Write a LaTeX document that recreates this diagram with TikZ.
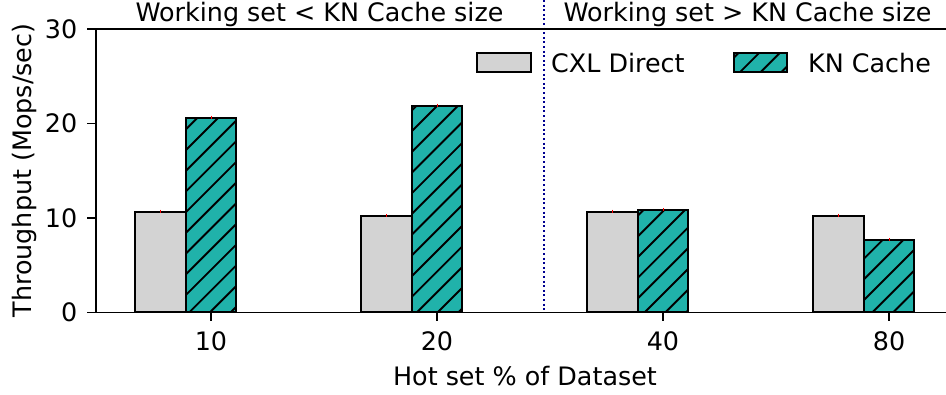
\documentclass[tikz,border=0pt]{standalone}
\usepackage{fontspec}
\setmainfont{DejaVu Sans}

\definecolor{cxlgray}{HTML}{D3D3D3}
\definecolor{knteal}{HTML}{20B2AA}
\definecolor{splitnavy}{HTML}{000090}

\tikzset{
  axisline/.style={line width=1.6pt, draw=black},
  tickmark/.style={line width=1.6pt, draw=black},
  baredge/.style={line width=2pt, draw=black},
  hatchline/.style={line width=1.9pt, draw=black},
  errmark/.style={line width=0.9pt, draw=red},
  splitline/.style={line width=2pt, draw=splitnavy, dash pattern=on 2pt off 2.6pt},
  lbl/.style={inner sep=0pt, font=\fontsize{25.4}{30}\selectfont},
}

% diagonal "/" hatching clipped to a rectangle (x1,y1)-(x2,y2)
\newcommand{\hatchfill}[4]{%
  \begin{scope}
    \clip (#1,#2) rectangle (#3,#4);
    \foreach \k in {-8,...,46}{
      \pgfmathsetmacro{\hc}{356.7+\k*20.7}
      \draw[hatchline] (\hc-420,420) -- (\hc,0);
    }
  \end{scope}}

% one group: tick position, CXL Direct top, KN Cache top
\newcommand{\bargroup}[3]{%
  \pgfmathsetmacro{\ga}{#1-75.75}
  \pgfmathsetmacro{\gb}{#1-25.25}
  \pgfmathsetmacro{\gc}{#1+25.25}
  \pgfmathsetmacro{\gm}{#1-50.5}
  \fill[cxlgray] (\ga,312.3) rectangle (\gb,#2);
  \draw[baredge] (\ga,312.3) rectangle (\gb,#2);
  \fill[knteal] (\gb,312.3) rectangle (\gc,#3);
  \hatchfill{\gb}{#3}{\gc}{312.3}
  \draw[baredge] (\gb,312.3) rectangle (\gc,#3);
  \draw[errmark] (\gm,#2-2) -- (\gm,#2+1.2);
  \draw[errmark] (#1,#3-2) -- (#1,#3+1.2);
}

\begin{document}
\begin{tikzpicture}[x=1pt,y=-1pt]
  \useasboundingbox (0,0) rectangle (946,394);

  % bars
  \bargroup{211}{211.7}{117.7}
  \bargroup{437}{216}{105.7}
  \bargroup{663}{211.7}{210}
  \bargroup{889}{215.7}{240}

  % regime split
  \coordinate (splittop) at (544,0);
  \coordinate (splitbot) at (544,312.3);
  \draw[splitline] (splittop) -- (splitbot);

  % axes frame
  \coordinate (origin) at (96,312.3);
  \coordinate (topleft) at (96,29);
  \coordinate (topright) at (946,29);
  \coordinate (botright) at (946,312.3);
  \draw[axisline] (topright) -- (topleft) -- (origin) -- (botright);

  % y ticks and labels
  \foreach \v/\yy in {0/312.3, 10/217.9, 20/123.4, 30/29}{
    \draw[tickmark] (87.3,\yy) -- (96,\yy);
    \node[lbl, anchor=east] (ytick\v) at (77.5,\yy) {\v};
  }

  % x ticks and labels
  \foreach \v/\xx in {10/211, 20/437, 40/663, 80/889}{
    \draw[tickmark] (\xx,312.3) -- (\xx,320.7);
    \node[lbl, anchor=base] (xtick\v) at (\xx,350) {\v};
  }

  % axis titles
  \node[lbl, anchor=base, rotate=90] (ylab) at (31,170.5) {Throughput (Mops/sec)};
  \node[lbl, anchor=base] (xlab) at (525,385) {Hot set \% of Dataset};

  % regime headers
  \node[lbl, anchor=base] (lefthead) at (319.5,21) {Working set < KN Cache size};
  \node[lbl, anchor=base] (righthead) at (747.5,21) {Working set > KN Cache size};

  % legend
  \fill[cxlgray] (477,53) rectangle (531,72);
  \draw[baredge] (477,53) rectangle (531,72);
  \node[lbl, anchor=base west] (legcxl) at (551,72) {CXL Direct};
  \fill[knteal] (734,53) rectangle (787,72);
  \hatchfill{734}{53}{787}{72}
  \draw[baredge] (734,53) rectangle (787,72);
  \node[lbl, anchor=base west] (legkn) at (808,72) {KN Cache};
\end{tikzpicture}
\end{document}
